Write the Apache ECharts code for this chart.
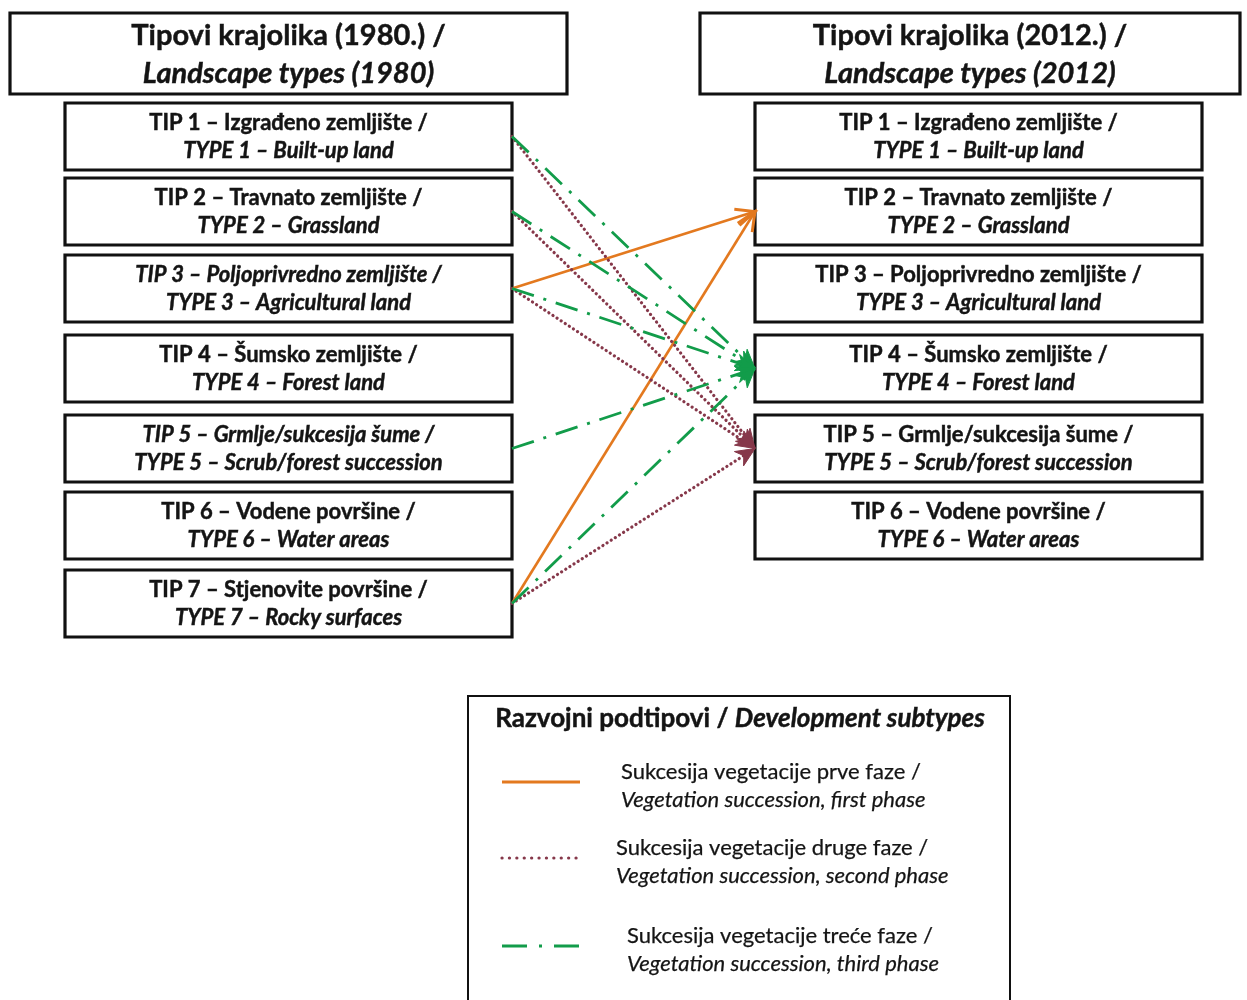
<!DOCTYPE html>
<html>
<head>
<meta charset="utf-8">
<script src="https://cdn.jsdelivr.net/npm/echarts@6/dist/echarts.min.js"></script>
<style>
html,body{margin:0;padding:0;background:#fff;}
#chart{width:1247px;height:1000px;}
</style>
</head>
<body>
<div id="chart"></div>
<script>
// ---------- DATA ----------
const headerHr = ['Tipovi krajolika (1980.) /', 'Tipovi krajolika (2012.) /'];
const headerEn = ['Landscape types (1980)', 'Landscape types (2012)'];
const typesHr = ['TIP 1 – Izgrađeno zemljište /', 'TIP 2 – Travnato zemljište /', 'TIP 3 – Poljoprivredno zemljište /', 'TIP 4 – Šumsko zemljište /', 'TIP 5 – Grmlje/sukcesija šume /', 'TIP 6 – Vodene površine /', 'TIP 7 – Stjenovite površine /'];
const typesEn = ['TYPE 1 – Built-up land', 'TYPE 2 – Grassland', 'TYPE 3 – Agricultural land', 'TYPE 4 – Forest land', 'TYPE 5 – Scrub/forest succession', 'TYPE 6 – Water areas', 'TYPE 7 – Rocky surfaces'];
const types1980 = [1, 2, 3, 4, 5, 6, 7];
const types2012 = [1, 2, 3, 4, 5, 6];
const italic1980 = [3, 5]; // types written in italics in the 1980 column
const linkFrom  = [3, 7, 1, 2, 3, 7, 1, 2, 3, 5, 7];
const linkTo    = [2, 2, 5, 5, 5, 5, 4, 4, 4, 4, 4];
const linkPhase = [1, 1, 2, 2, 2, 2, 3, 3, 3, 3, 3];
const legendTitleHr = 'Razvojni podtipovi / ';
const legendTitleEn = 'Development subtypes';
const phases = [1, 2, 3];
const phaseHr = ['Sukcesija vegetacije prve faze /', 'Sukcesija vegetacije druge faze /', 'Sukcesija vegetacije treće faze /'];
const phaseEn = ['Vegetation succession, first phase', 'Vegetation succession, second phase', 'Vegetation succession, third phase'];

// ---------- LAYOUT / STYLE ----------
const FONT = 'Lato';
const TXT = '#141414';
const colX = [[65, 512], [755, 1202]];
const rowTop = [103, 178, 255, 335, 415, 492, 570];
const rowH = 67;
const headBox = [[10, 13, 567, 94], [700, 13, 1240, 94]];
const legendBox = [468, 696, 1010, 1010];
const legendRowY = [782, 858, 946];
const legendTextX = [621, 616, 627];
const phaseStyle = {
  1: { color: '#E3791F', dash: null, width: 2.6, head: 'open', cap: 'butt' },
  2: { color: '#86384A', dash: [0.1, 4.8], width: 3.2, head: 'fill', cap: 'round' },
  3: { color: '#129C4A', dash: [23, 10, 3, 10], width: 2.8, head: 'fill', cap: 'butt' }
};

const chart = echarts.init(document.getElementById('chart'), null, { renderer: 'canvas' });

function boxItem(x0, y0, x1, y1, api) {
  const p0 = api.coord([x0, y0]), p1 = api.coord([x1, y1]);
  return { x: p0[0], y: p0[1], w: p1[0] - p0[0], h: p1[1] - p0[1] };
}

const heavy = { stroke: TXT, lineWidth: 0.45 };

function renderBox(params, api) {
  const col = api.value(0), t = api.value(1);
  const i = t - 1;
  const b = boxItem(colX[col][0], rowTop[i], colX[col][1], rowTop[i] + rowH, api);
  const it = col === 0 && italic1980.indexOf(t) >= 0;
  return {
    type: 'group',
    children: [
      { type: 'rect', shape: { x: b.x, y: b.y, width: b.w, height: b.h },
        style: { fill: '#fff', stroke: '#111', lineWidth: 3.2 } },
      { type: 'text', x: b.x + b.w / 2, y: b.y + b.h / 2,
        style: {
          text: '{a|' + typesHr[i] + '}\n{b|' + typesEn[i] + '}',
          align: 'center', verticalAlign: 'middle',
          rich: {
            a: Object.assign({ fontFamily: FONT, fontWeight: 'bold', fontStyle: it ? 'italic' : 'normal', fontSize: 22, lineHeight: 28, fill: TXT, align: 'center' }, heavy),
            b: Object.assign({ fontFamily: FONT, fontWeight: 'bold', fontStyle: 'italic', fontSize: 22, lineHeight: 28, fill: TXT, align: 'center' }, heavy)
          }
        } }
    ]
  };
}

function renderHeader(params, api) {
  const col = api.value(0);
  const h = headBox[col];
  const b = boxItem(h[0], h[1], h[2], h[3], api);
  return {
    type: 'group',
    children: [
      { type: 'rect', shape: { x: b.x, y: b.y, width: b.w, height: b.h },
        style: { fill: '#fff', stroke: '#111', lineWidth: 3.2 } },
      { type: 'text', x: b.x + b.w / 2, y: b.y + b.h / 2 + 1,
        style: {
          text: '{a|' + headerHr[col] + '}\n{b|' + headerEn[col] + '}',
          align: 'center', verticalAlign: 'middle',
          rich: {
            a: Object.assign({ fontFamily: FONT, fontWeight: 'bold', fontSize: 29, lineHeight: 38, fill: TXT, align: 'center' }, heavy),
            b: Object.assign({ fontFamily: FONT, fontWeight: 'bold', fontStyle: 'italic', fontSize: 29, lineHeight: 38, fill: TXT, align: 'center' }, heavy)
          }
        } }
    ]
  };
}

function arrowHead(tip, from, st, len, half) {
  const dx = tip[0] - from[0], dy = tip[1] - from[1];
  const d = Math.sqrt(dx * dx + dy * dy);
  const ux = dx / d, uy = dy / d;
  const bx = tip[0] - ux * len, by = tip[1] - uy * len;
  const l = [bx - uy * half, by + ux * half], r = [bx + uy * half, by - ux * half];
  if (st.head === 'open') {
    return { type: 'polyline', shape: { points: [l, tip, r] },
      style: { stroke: st.color, lineWidth: st.width + 0.4, fill: null, lineJoin: 'miter' } };
  }
  return { type: 'polygon', shape: { points: [l, tip, r, [tip[0] - ux * len * 0.7, tip[1] - uy * len * 0.7]] },
    style: { fill: st.color, stroke: st.color, lineWidth: 1 } };
}

function rowCenter(t) { return rowTop[t - 1] + rowH / 2; }

function renderLink(params, api) {
  const f = api.value(0), t = api.value(1), ph = api.value(2);
  const st = phaseStyle[ph];
  const p0 = api.coord([colX[0][1], rowCenter(f)]);
  const p1 = api.coord([colX[1][0], rowCenter(t)]);
  return {
    type: 'group',
    children: [
      { type: 'line', shape: { x1: p0[0], y1: p0[1], x2: p1[0], y2: p1[1] },
        style: { stroke: st.color, lineWidth: st.width, lineDash: st.dash, lineCap: st.cap } },
      arrowHead(p1, p0, st, 19, 8.5)
    ]
  };
}

function renderLegendFrame(params, api) {
  const b = boxItem(legendBox[0], legendBox[1], legendBox[2], legendBox[3], api);
  const c = api.coord([(legendBox[0] + legendBox[2]) / 2, 719]);
  return {
    type: 'group',
    children: [
      { type: 'rect', shape: { x: b.x, y: b.y, width: b.w, height: b.h },
        style: { fill: '#fff', stroke: '#111', lineWidth: 2 } },
      { type: 'text', x: c[0] + 1, y: c[1],
        style: {
          text: '{a|' + legendTitleHr + '}{b|' + legendTitleEn + '}',
          align: 'center', verticalAlign: 'middle',
          rich: {
            a: Object.assign({ fontFamily: FONT, fontWeight: 'bold', fontSize: 26, fill: TXT }, heavy),
            b: Object.assign({ fontFamily: FONT, fontWeight: 'bold', fontStyle: 'italic', fontSize: 26, fill: TXT }, heavy)
          }
        } }
    ]
  };
}

function renderLegendItem(params, api) {
  const ph = api.value(0);
  const i = ph - 1;
  const st = phaseStyle[ph];
  const a = api.coord([502, legendRowY[i]]), b = api.coord([580, legendRowY[i]]);
  const tp = api.coord([legendTextX[i], legendRowY[i] + 4]);
  const dash = ph === 3 ? [25, 12, 3, 12] : (ph === 2 ? [0.1, 7.3] : null);
  return {
    type: 'group',
    children: [
      { type: 'line', shape: { x1: a[0], y1: a[1], x2: b[0], y2: b[1] },
        style: { stroke: st.color, lineWidth: ph === 2 ? 3.2 : 3, lineDash: dash, lineCap: ph === 2 ? 'round' : 'butt' } },
      { type: 'text', x: tp[0], y: tp[1],
        style: {
          text: '{a|' + phaseHr[i] + '}\n{b|' + phaseEn[i] + '}',
          align: 'left', verticalAlign: 'middle',
          rich: {
            a: { fontFamily: FONT, fontSize: 22, lineHeight: 28, fill: TXT, stroke: TXT, lineWidth: 0.25 },
            b: { fontFamily: FONT, fontStyle: 'italic', fontSize: 22, lineHeight: 28, fill: TXT, stroke: TXT, lineWidth: 0.25 }
          }
        } }
    ]
  };
}

const option = {
  backgroundColor: '#fff',
  animation: false,
  grid: { left: 0, right: 0, top: 0, bottom: 0 },
  xAxis: { type: 'value', min: 0, max: 1247, show: false },
  yAxis: { type: 'value', min: 0, max: 1000, inverse: true, show: false },
  series: [
    { type: 'custom', renderItem: renderHeader, data: [[0], [1]], z: 2 },
    { type: 'custom', renderItem: renderBox,
      data: types1980.map(t => [0, t]).concat(types2012.map(t => [1, t])), z: 2 },
    { type: 'custom', renderItem: renderLink,
      data: linkFrom.map((f, k) => [f, linkTo[k], linkPhase[k]]), z: 3 },
    { type: 'custom', renderItem: renderLegendFrame, data: [[0]], z: 2 },
    { type: 'custom', renderItem: renderLegendItem, data: phases.map(p => [p]), z: 3 }
  ]
};
chart.setOption(option);
</script>
</body>
</html>
